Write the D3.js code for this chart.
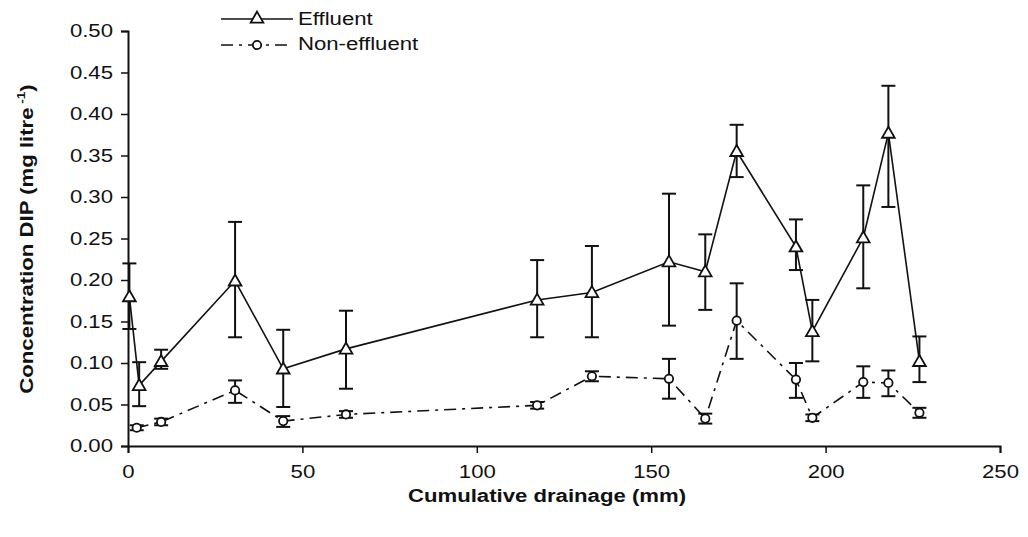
<!DOCTYPE html>
<html>
<head>
<meta charset="utf-8">
<script src="https://cdn.jsdelivr.net/npm/d3@7"></script>
<style>
  body { margin: 0; background: #fff; }
  text { font-family: "Liberation Sans", Arial, sans-serif; fill: #111; }
</style>
</head>
<body>
<div id="vis"></div>
<script>
const FRAME_WIDTH = 1028;
const FRAME_HEIGHT = 537;
const STRETCH = 1.23; // the reference font is wider than Arial

// Effluent: x (mm), mean, upper and lower error bar ends
const effX  = [0.4, 3.2, 9.5, 30.7, 44.5, 62.5, 117.3, 133, 155.1, 165.5, 174.5, 191.5, 196.2, 210.8, 218, 226.9];
const effY  = [0.180, 0.073, 0.102, 0.199, 0.093, 0.117, 0.176, 0.185, 0.222, 0.210, 0.355, 0.240, 0.138, 0.251, 0.377, 0.102];
const effHi = [0.220, 0.101, 0.116, 0.270, 0.140, 0.163, 0.224, 0.241, 0.304, 0.255, 0.387, 0.273, 0.176, 0.314, 0.434, 0.132];
const effLo = [0.141, 0.048, 0.093, 0.131, 0.047, 0.069, 0.131, 0.131, 0.145, 0.164, 0.324, 0.212, 0.102, 0.190, 0.288, 0.077];

// Non-effluent
const nonX  = [2.5, 9.5, 30.7, 44.5, 62.5, 117.3, 133, 155.1, 165.5, 174.5, 191.5, 196.2, 210.8, 218, 226.9];
const nonY  = [0.022, 0.029, 0.067, 0.030, 0.038, 0.049, 0.084, 0.081, 0.033, 0.151, 0.080, 0.034, 0.077, 0.076, 0.040];
const nonHi = [0.025, 0.033, 0.079, 0.036, 0.042, 0.053, 0.090, 0.105, 0.039, 0.196, 0.100, 0.038, 0.096, 0.091, 0.046];
const nonLo = [0.019, 0.025, 0.052, 0.023, 0.034, 0.045, 0.078, 0.057, 0.027, 0.105, 0.058, 0.030, 0.058, 0.060, 0.034];

const xTicks = [0, 50, 100, 150, 200, 250];
const yTicks = [0, 0.05, 0.10, 0.15, 0.20, 0.25, 0.30, 0.35, 0.40, 0.45, 0.50];

const X_SCALE = d3.scaleLinear().domain([0, 250]).range([128, 1000]);
const Y_SCALE = d3.scaleLinear().domain([0, 0.5]).range([446, 31]);

const svg = d3.select("#vis").append("svg")
  .attr("width", FRAME_WIDTH)
  .attr("height", FRAME_HEIGHT);

const effData = effX.map((x, i) => ({x: x, y: effY[i], hi: effHi[i], lo: effLo[i]}));
const nonData = nonX.map((x, i) => ({x: x, y: nonY[i], hi: nonHi[i], lo: nonLo[i]}));

// axes
const xAxis = svg.append("g")
  .attr("transform", "translate(0," + Y_SCALE(0) + ")")
  .call(d3.axisBottom(X_SCALE).tickValues(xTicks).tickFormat(d3.format("d")).tickSize(7).tickPadding(12));
const yAxis = svg.append("g")
  .attr("transform", "translate(" + X_SCALE(0) + ",0)")
  .call(d3.axisLeft(Y_SCALE).tickValues(yTicks).tickFormat(d3.format(".2f")).tickSize(7).tickPadding(8));

[xAxis, yAxis].forEach(g => {
  g.select(".domain").attr("stroke", "#111").attr("stroke-width", 2);
  g.selectAll(".tick line").attr("stroke", "#111").attr("stroke-width", 1.5);
  g.selectAll(".tick text").attr("font-size", "18px").style("font-family", "'Liberation Sans', Arial, sans-serif").attr("fill", "#111");
});

// lines
const line = d3.line().x(d => X_SCALE(d.x)).y(d => Y_SCALE(d.y));

svg.append("path").datum(nonData)
  .attr("d", line).attr("fill", "none")
  .attr("stroke", "#111").attr("stroke-width", 1.6)
  .attr("stroke-dasharray", "12,6,3,6");

svg.append("path").datum(effData)
  .attr("d", line).attr("fill", "none")
  .attr("stroke", "#111").attr("stroke-width", 1.6);

// error bars
function drawErrors(data) {
  const g = svg.append("g").attr("stroke", "#111").attr("stroke-width", 2).attr("fill", "none");
  data.forEach(d => {
    const cx = X_SCALE(d.x);
    g.append("line").attr("x1", cx).attr("x2", cx).attr("y1", Y_SCALE(d.hi)).attr("y2", Y_SCALE(d.lo));
    g.append("line").attr("x1", cx - 7).attr("x2", cx + 7).attr("y1", Y_SCALE(d.hi)).attr("y2", Y_SCALE(d.hi));
    g.append("line").attr("x1", cx - 7).attr("x2", cx + 7).attr("y1", Y_SCALE(d.lo)).attr("y2", Y_SCALE(d.lo));
  });
}
drawErrors(nonData);
drawErrors(effData);

// markers
const tri = d3.symbol().type(d3.symbolTriangle).size(70);

svg.selectAll(".tri").data(effData).enter().append("path")
  .attr("class", "tri")
  .attr("d", tri)
  .attr("transform", d => "translate(" + X_SCALE(d.x) + "," + (Y_SCALE(d.y) + 1) + ")")
  .attr("fill", "#fff").attr("stroke", "#111").attr("stroke-width", 1.8);

svg.selectAll(".circ").data(nonData).enter().append("circle")
  .attr("class", "circ")
  .attr("cx", d => X_SCALE(d.x)).attr("cy", d => Y_SCALE(d.y))
  .attr("r", 4.2)
  .attr("fill", "#fff").attr("stroke", "#111").attr("stroke-width", 1.8);

// legend
const legend = svg.append("g");
legend.append("line").attr("x1", 221).attr("x2", 293).attr("y1", 19).attr("y2", 19)
  .attr("stroke", "#111").attr("stroke-width", 1.6);
legend.append("path").attr("d", tri).attr("transform", "translate(257,19)")
  .attr("fill", "#fff").attr("stroke", "#111").attr("stroke-width", 1.8);
legend.append("text").attr("x", 298).attr("y", 25).attr("font-size", "18px").text("Effluent");

legend.append("line").attr("x1", 221).attr("x2", 293).attr("y1", 45).attr("y2", 45)
  .attr("stroke", "#111").attr("stroke-width", 1.6).attr("stroke-dasharray", "12,6,3,6");
legend.append("circle").attr("cx", 257).attr("cy", 45).attr("r", 4.2)
  .attr("fill", "#fff").attr("stroke", "#111").attr("stroke-width", 1.8);
legend.append("text").attr("x", 298).attr("y", 50).attr("font-size", "18px").text("Non-effluent");

// axis titles
svg.append("text")
  .attr("x", 547).attr("y", 502)
  .attr("text-anchor", "middle")
  .attr("font-size", "18px").attr("font-weight", "bold")
  .text("Cumulative drainage (mm)");

const yTitle = svg.append("text")
  .attr("transform", "translate(33,239) rotate(-90)")
  .attr("text-anchor", "middle")
  .attr("font-size", "18px").attr("font-weight", "bold");
yTitle.append("tspan").text("Concentration DIP (mg litre");
yTitle.append("tspan").attr("font-size", "11px").attr("dy", -8).text(" -1");
yTitle.append("tspan").attr("dy", 8).text(")");

// widen all text to match the reference lettering
svg.selectAll("text").each(function () {
  const w = this.getComputedTextLength();
  d3.select(this).attr("textLength", w * STRETCH).attr("lengthAdjust", "spacingAndGlyphs");
});
</script>
</body>
</html>
